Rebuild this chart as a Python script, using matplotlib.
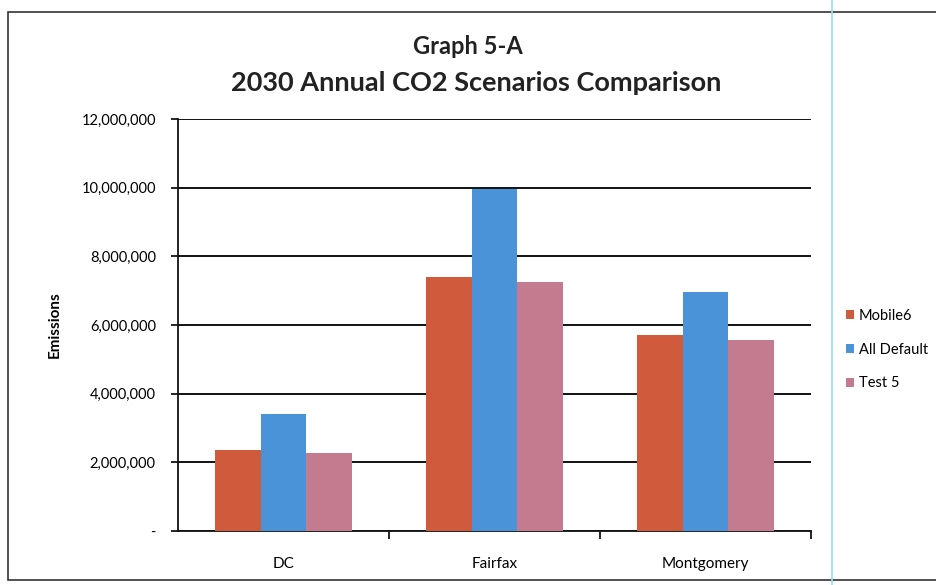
import matplotlib
matplotlib.use("Agg")
import matplotlib.pyplot as plt
import numpy as np
from matplotlib.ticker import FuncFormatter
from matplotlib.patches import Rectangle
from matplotlib.lines import Line2D

categories = ["DC", "Fairfax", "Montgomery"]
series_names = ["Mobile6", "All Default", "Test 5"]
mobile6 = [2370000, 7400000, 5710000]
all_default = [3400000, 9950000, 6970000]
test5 = [2270000, 7250000, 5560000]
colors = ["#D05A3C", "#4A93D8", "#C47A8F"]
yticks = [0, 2000000, 4000000, 6000000, 8000000, 10000000, 12000000]

plt.rcParams['font.family'] = ['Lato', 'DejaVu Sans']

W, H = 937, 585
fig = plt.figure(figsize=(W / 100, H / 100), dpi=100)
fig.patch.set_facecolor("white")

# outer chart border and cyan scan line
fig.add_artist(Rectangle((8 / W, 1 - 580 / H), (W - 8) / W, (580 - 12) / H,
                         transform=fig.transFigure, fill=False,
                         edgecolor="#333333", linewidth=1.2))
fig.add_artist(Line2D([832 / W, 832 / W], [0, 1], transform=fig.transFigure,
                      color="#9ADCEB", linewidth=1.2))

ax = fig.add_axes([178 / W, 1 - 531 / H, (811 - 178) / W, (531 - 119) / H])
x = np.arange(len(categories))
bw = 0.218
for i, (vals, name) in enumerate(zip([mobile6, all_default, test5], series_names)):
    ax.bar(x + (i - 1) * bw, vals, width=bw, color=colors[i], label=name, zorder=3)

ax.set_xlim(-0.5, 2.5)
ax.set_ylim(0, 12000000)
ax.set_yticks(yticks)
ax.yaxis.set_major_formatter(FuncFormatter(lambda v, p: "-" if v == 0 else f"{int(v):,}"))
ax.set_xticks(x)
ax.set_xticklabels(categories)
ax.set_xticks([0.5, 1.5, 2.5], minor=True)
ax.tick_params(axis="x", which="major", length=0, pad=19, labelsize=11)
ax.tick_params(axis="x", which="minor", length=6, width=1.2, direction="out")
ax.tick_params(axis="y", length=5, width=1.2, direction="out", labelsize=10.5, pad=11)
ax.grid(axis="y", color="#111111", linewidth=1.4, zorder=0)
ax.set_axisbelow(True)
for s in ["top", "right"]:
    ax.spines[s].set_visible(False)
for s in ["left", "bottom"]:
    ax.spines[s].set_linewidth(1.3)
    ax.spines[s].set_color("#111111")

ax.set_ylabel("Emissions", fontsize=11, fontweight="bold", labelpad=14)

fig.text(468 / W, 1 - 47 / H, "Graph 5-A", ha="center", va="center",
         fontsize=17, fontweight="bold", color="#222222")
fig.text(476 / W, 1 - 83 / H, "2030 Annual CO2 Scenarios Comparison", ha="center",
         va="center", fontsize=19.5, fontweight="bold", color="#222222")

ax.legend(loc="upper left", bbox_to_anchor=(846 / W, 1 - 309 / H),
          bbox_transform=fig.transFigure, frameon=False, fontsize=10.5,
          borderpad=0, borderaxespad=0,
          handlelength=0.55, handleheight=0.55, handletextpad=0.35, labelspacing=1.35)

fig.savefig("out.png", dpi=100)
